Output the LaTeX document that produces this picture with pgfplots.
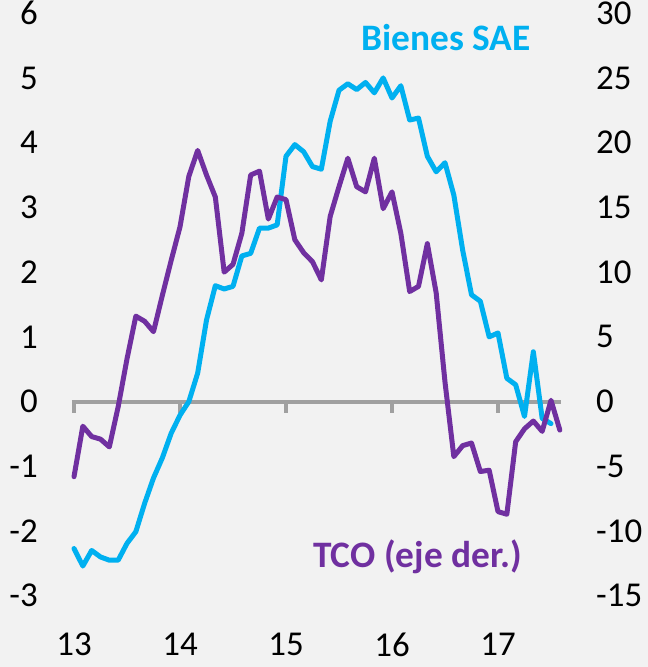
\documentclass[border=0pt]{standalone}
\usepackage{fontspec}
\setmainfont{Carlito}
\usepackage{pgfplots}
\usepackage{pgfplotstable}
\pgfplotsset{compat=1.18}
\definecolor{bg}{HTML}{F2F2F2}
\definecolor{sae}{HTML}{00B0F0}
\definecolor{tco}{HTML}{7030A0}
\definecolor{zl}{HTML}{A0A0A0}

% month index (0 = Jan 2013), value
\pgfplotstableread{
i v
0 -2.27
1 -2.54
2 -2.30
3 -2.40
4 -2.45
5 -2.45
6 -2.19
7 -2.01
8 -1.57
9 -1.18
10 -0.87
11 -0.49
12 -0.21
13 0.00
14 0.44
15 1.26
16 1.79
17 1.74
18 1.78
19 2.25
20 2.29
21 2.68
22 2.68
23 2.73
24 3.79
25 3.97
26 3.86
27 3.63
28 3.59
29 4.33
30 4.81
31 4.91
32 4.82
33 4.93
34 4.77
35 5.00
36 4.69
37 4.88
38 4.35
39 4.38
40 3.79
41 3.55
42 3.69
43 3.19
44 2.34
45 1.65
46 1.55
47 1.00
48 1.06
49 0.36
50 0.26
51 -0.23
52 0.77
53 -0.26
54 -0.34
}\sae

\pgfplotstableread{
i v
0 -5.8
1 -1.9
2 -2.7
3 -2.9
4 -3.5
5 -0.4
6 3.3
7 6.6
8 6.2
9 5.4
10 8.2
11 10.9
12 13.5
13 17.4
14 19.4
15 17.5
16 15.8
17 10.0
18 10.6
19 13.0
20 17.5
21 17.8
22 14.1
23 15.8
24 15.6
25 12.5
26 11.5
27 10.8
28 9.4
29 14.3
30 16.6
31 18.8
32 16.6
33 16.2
34 18.8
35 14.9
36 16.2
37 13.0
38 8.5
39 8.9
40 12.2
41 8.4
42 1.5
43 -4.25
44 -3.4
45 -3.2
46 -5.4
47 -5.3
48 -8.5
49 -8.7
50 -3.1
51 -2.1
52 -1.5
53 -2.3
54 0.1
55 -2.2
}\tco

\begin{document}
\begin{tikzpicture}
\fill[bg] (0,0) rectangle (648bp,667bp);
\begin{axis}[
  at={(74bp,71.2bp)}, anchor=south west,
  scale only axis, width=514bp, height=582.6bp,
  xmin=13, xmax=17.849, ymin=-3, ymax=6,
  axis line style={draw=none},
  major tick length=0pt, tick style={draw=none},
  xtick={13,14,15,16,17}, xticklabels={13,14,15,16,17},
  ytick={-3,-2,...,6}, yticklabels={-3,-2,-1,0,1,2,3,4,5,6},
  ticklabel style={font=\fontsize{35}{40}\selectfont, inner sep=0pt},
  yticklabel style={anchor=east, xshift=-36bp},
  xticklabel style={anchor=north, yshift=-37bp},
  clip=false,
]
\addplot[zl, line width=4bp, line cap=butt] coordinates {(12.98,0) (17.59,0)};
\addplot[zl, line width=4bp, ycomb, mark=none] coordinates {(13,-0.17) (14,-0.17) (15,-0.17) (16,-0.17) (17,-0.17)};
\addplot[sae, line width=5bp, line join=round, line cap=round, mark=none]
  table[x expr=13+\thisrow{i}/12, y=v] {\sae};
\end{axis}
\begin{axis}[
  at={(74bp,71.2bp)}, anchor=south west,
  scale only axis, width=514bp, height=582.6bp,
  xmin=13, xmax=17.849, ymin=-15, ymax=30,
  axis line style={draw=none},
  major tick length=0pt, tick style={draw=none},
  xtick=\empty,
  yticklabel pos=right,
  ytick={-15,-10,...,30}, yticklabels={-15,-10,-5,0,5,10,15,20,25,30},
  ticklabel style={font=\fontsize{35}{40}\selectfont, inner sep=0pt},
  yticklabel style={anchor=west, xshift=8bp},
  clip=false,
]
\addplot[tco, line width=5bp, line join=round, line cap=round, mark=none]
  table[x expr=13+\thisrow{i}/12, y=v] {\tco};
\end{axis}
\node[anchor=base, text=sae, font=\bfseries\fontsize{37.5}{40}\selectfont, inner sep=0pt] at (446bp,616.3bp) {Bienes SAE};
\node[anchor=base, text=tco, font=\bfseries\fontsize{37.5}{40}\selectfont, inner sep=0pt] at (417.5bp,99.7bp) {TCO (eje der.)};
\end{tikzpicture}
\end{document}
